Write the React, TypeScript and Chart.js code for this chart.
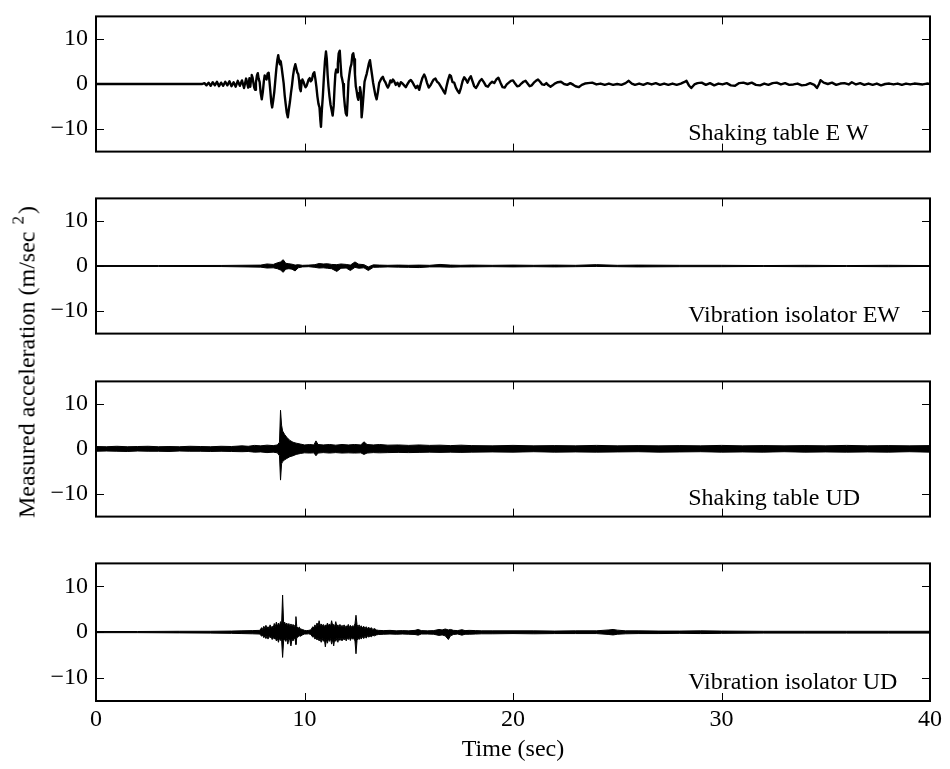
import React, { useEffect, useRef } from "react";
import { Chart, registerables } from "chart.js";

Chart.register(...registerables);

const FONT = "'Liberation Serif', 'Times New Roman', serif";

// ---- axis ticks & labels ----
const xTickValues = [0, 10, 20, 30, 40];
const yTickValues = [-10, 0, 10];
const panelLabels = [
  "Shaking table E W",
  "Vibration isolator EW",
  "Shaking table UD",
  "Vibration isolator UD",
];
const xAxisTitle = "Time (sec)";

// ---- Panel 1: shaking table EW, [time s, acceleration m/s²] ----
const tableEwOnset: [number, number][] = [
  [0, 0], [5.1, 0], [5.2, 0.2], [5.3, -0.3], [5.4, 0.3], [5.5, -0.4], [5.6, 0.4], [5.7, -0.3],
  [5.8, 0.5], [5.9, -0.5], [6.0, 0.3], [6.1, -0.4], [6.2, 0.5], [6.3, -0.3], [6.4, 0.6],
  [6.5, -0.5], [6.6, 0.4], [6.7, -0.6], [6.8, 0.7], [6.9, -0.4], [7.0, 0.8], [7.1, -0.9],
  [7.2, 1.2], [7.3, -0.8], [7.36, 1.3], [7.4, -0.6],
];
const tableEwStrong: [number, number][] = [
  [7.44, 1.2], [7.47, 2.0], [7.51, 1.4], [7.55, 0.2], [7.59, -0.8], [7.63, -1.3], [7.67, 0.3],
  [7.72, 1.9], [7.76, 2.4], [7.8, 1.2], [7.85, 0.4], [7.9, -2.0], [7.95, -3.4], [8.0, -1.8],
  [8.05, 0.6], [8.09, 1.9], [8.13, 1.4], [8.18, 1.0], [8.23, 2.3], [8.28, 2.5], [8.32, 0.6],
  [8.36, -1.5], [8.41, -4.2], [8.45, -5.2], [8.5, -3.6], [8.55, -1.8], [8.6, 0.8], [8.65, 3.4],
  [8.7, 5.4], [8.74, 6.4], [8.78, 5.2], [8.82, 4.4], [8.86, 5.0], [8.9, 3.8], [8.95, 2.0],
  [9.0, 0.2], [9.05, -2.5], [9.1, -4.5], [9.15, -6.4], [9.2, -7.4], [9.25, -5.6], [9.3, -4.0],
  [9.35, -2.0], [9.4, -0.3], [9.45, 1.8], [9.5, 3.3], [9.56, 4.4], [9.6, 3.6], [9.65, 2.6],
  [9.7, 2.2], [9.74, 0.8], [9.78, -1.0], [9.82, -1.6], [9.86, 0.2], [9.9, 1.0], [9.95, 0.5],
  [10.0, -0.2], [10.05, -0.7], [10.1, -0.4], [10.15, 0.3], [10.2, 1.0], [10.25, 1.3],
  [10.3, 0.6], [10.35, 0.9], [10.42, 2.3], [10.47, 2.6], [10.52, 1.2], [10.57, -0.6],
  [10.62, -2.8], [10.67, -4.4], [10.72, -5.2], [10.76, -8.0], [10.79, -9.5], [10.83, -6.0],
  [10.88, -2.7], [10.93, 1.5], [10.98, 5.0], [11.03, 7.2], [11.07, 5.5], [11.11, 2.0],
  [11.15, -0.5], [11.2, -2.8], [11.25, -4.6], [11.3, -5.8], [11.35, -7.0], [11.4, -4.8],
  [11.44, -1.0], [11.48, 2.2], [11.52, 3.2], [11.56, 2.6], [11.6, 4.5], [11.64, 6.8],
  [11.69, 7.4], [11.73, 4.5], [11.77, 1.8], [11.81, 1.0], [11.85, 0.0], [11.89, -2.6],
  [11.94, -5.0], [11.98, -6.5], [12.03, -7.0], [12.07, -3.5], [12.11, 0.5], [12.15, 2.0],
  [12.2, 3.6], [12.25, 4.4], [12.3, 6.5], [12.34, 6.8], [12.38, 5.5], [12.42, 2.2],
  [12.46, -0.5], [12.5, -1.5], [12.54, -2.8], [12.58, -3.5], [12.62, -2.0], [12.66, -0.7],
  [12.7, -1.8], [12.74, -7.4], [12.78, -5.5], [12.83, -2.5], [12.88, 0.5], [12.93, 1.4],
  [12.98, 2.2], [13.04, 3.5], [13.09, 4.6], [13.14, 5.3], [13.19, 3.6], [13.24, 2.0],
  [13.29, 0.3], [13.34, -1.0], [13.4, -2.5], [13.46, -3.4], [13.52, -1.8], [13.58, 0.2],
  [13.64, 0.8], [13.7, 1.3], [13.76, 1.6], [13.82, 0.8], [13.88, 0.4], [13.94, -0.3],
  [14.0, -0.8], [14.06, -0.2], [14.12, 0.8], [14.18, 0.4], [14.24, 1.0], [14.3, 0.6],
];
const tableEwCoda: [number, number][] = [
  [14.38, -0.2], [14.46, 0.3], [14.54, -0.5], [14.62, 0.4], [14.7, 0.1], [14.78, -0.3],
  [14.86, -0.7], [14.94, 0.0], [15.02, 0.6], [15.1, 0.9], [15.18, 0.4], [15.26, -0.3],
  [15.34, -0.9], [15.42, -0.4], [15.5, -1.3], [15.58, 0.2], [15.66, 1.4], [15.74, 2.1],
  [15.8, 1.5], [15.88, 0.2], [15.96, -0.8], [16.04, -0.3], [16.12, 0.4], [16.2, 1.0],
  [16.28, 1.2], [16.36, 0.5], [16.44, 0.2], [16.52, -0.4], [16.6, -1.0], [16.68, -1.7],
  [16.74, -2.1], [16.8, -0.8], [16.88, 0.8], [16.96, 2.0], [17.02, 1.8], [17.1, 0.4],
  [17.18, 0.3], [17.26, -0.8], [17.34, -1.5], [17.42, -2.0], [17.5, -0.9], [17.58, 0.6],
  [17.66, 1.5], [17.74, 1.0], [17.82, 0.3], [17.9, 1.2], [17.98, 1.7], [18.06, 0.6],
  [18.14, -0.5], [18.22, -0.9], [18.3, -0.3], [18.4, 0.6], [18.5, 1.1], [18.6, 0.4],
  [18.7, -0.4], [18.8, -0.6], [18.9, 0.1], [19.0, 0.5], [19.1, 0.2], [19.2, 1.0], [19.3, 1.4],
  [19.4, 0.3], [19.5, -0.7], [19.6, -0.8], [19.7, -0.1], [19.8, 0.3], [19.9, 0.7], [20.0, 0.8],
  [20.1, 0.1], [20.2, -0.5], [20.3, -0.4], [20.4, 0.1], [20.5, 0.5], [20.6, 0.7], [20.7, 0.1],
  [20.8, -0.5], [20.9, -0.3], [21.0, 0.3], [21.1, 0.7], [21.2, 1.0], [21.3, 0.5], [21.4, -0.1],
  [21.5, -0.2], [21.6, 0.2], [21.7, -0.3], [21.8, -0.6], [21.9, -0.3], [22.0, 0.1],
  [22.15, 0.4], [22.3, 0.5], [22.45, 0.0], [22.6, -0.2], [22.75, 0.2], [22.9, -0.2],
  [23.0, -0.5], [23.15, -0.7], [23.3, -0.2], [23.45, 0.1], [23.6, 0.2], [23.8, 0.3],
  [24.0, -0.1], [24.2, 0.1], [24.4, -0.2], [24.6, 0.1], [24.8, -0.2], [25.0, 0.0],
  [25.2, -0.2], [25.4, 0.2], [25.55, 0.7], [25.7, 0.1], [25.85, -0.2], [26.05, 0.1],
  [26.25, -0.2], [26.45, 0.2], [26.65, -0.1], [26.85, 0.2], [27.05, -0.2], [27.25, 0.1],
  [27.45, -0.2], [27.65, 0.1], [27.85, -0.2], [28.05, 0.1], [28.2, 0.4], [28.32, 0.7],
  [28.45, -0.4], [28.55, -0.9], [28.7, -0.1], [28.85, 0.2], [29.05, 0.3], [29.25, -0.2],
  [29.45, 0.2], [29.65, -0.3], [29.85, 0.1], [30.05, -0.1], [30.25, 0.2], [30.45, -0.3],
  [30.65, -0.4], [30.85, 0.2], [31.05, 0.3], [31.25, 0.0], [31.45, 0.3], [31.65, -0.2],
  [31.85, -0.3], [32.05, 0.1], [32.25, -0.2], [32.45, 0.2], [32.65, 0.3], [32.85, -0.1],
  [33.05, 0.2], [33.25, -0.2], [33.45, -0.1], [33.65, 0.1], [33.85, -0.3], [34.05, -0.2],
  [34.25, 0.2], [34.45, -0.2], [34.58, -0.9], [34.68, 0.0], [34.75, 0.85], [34.9, 0.3],
  [35.1, 0.0], [35.3, 0.3], [35.5, -0.2], [35.7, 0.1], [35.9, 0.2], [36.1, -0.1], [36.25, 0.4],
  [36.45, -0.1], [36.65, 0.2], [36.85, -0.2], [37.05, 0.1], [37.25, -0.2], [37.45, 0.1],
  [37.65, -0.3], [37.85, 0.0], [38.05, 0.1], [38.25, -0.1], [38.45, 0.1], [38.65, -0.2],
  [38.85, 0.1], [39.05, -0.1], [39.25, 0.1], [39.45, 0.0], [39.65, -0.1], [39.85, 0.1],
  [40.0, 0.0],
];

// ---- Panel 2: vibration isolator EW, [time, upper, lower] envelope ----
const isoEwEnvelope: [number, number, number][] = [
  [0, 0.1, -0.1], [3, 0.1, -0.1], [6, 0.12, -0.12], [7.9, 0.2, -0.25], [8.2, 0.45, -0.45],
  [8.5, 0.35, -0.4], [8.7, 0.7, -0.6], [8.85, 0.9, -0.9], [8.98, 1.4, -1.4], [9.1, 0.6, -0.7],
  [9.25, 0.5, -0.6], [9.4, 0.4, -0.7], [9.55, 0.2, -1.1], [9.7, 0.3, -0.4], [9.9, 0.15, -0.2],
  [10.2, 0.2, -0.15], [10.5, 0.3, -0.3], [10.7, 0.55, -0.45], [10.9, 0.45, -0.4],
  [11.1, 0.5, -0.5], [11.3, 0.35, -0.6], [11.55, 0.3, -1.2], [11.75, 0.45, -0.5],
  [12.0, 0.35, -0.45], [12.2, 0.2, -1.0], [12.42, 0.9, -0.3], [12.6, 0.4, -0.5],
  [12.85, 0.3, -0.4], [13.06, -0.2, -1.0], [13.3, 0.25, -0.3], [13.6, 0.2, -0.25],
  [14.0, 0.15, -0.2], [14.5, 0.2, -0.25], [15.0, 0.15, -0.3], [15.5, 0.2, -0.35],
  [16.0, 0.15, -0.2], [16.5, 0.35, -0.2], [17.0, 0.2, -0.25], [17.5, 0.15, -0.2],
  [18.0, 0.2, -0.2], [19, 0.15, -0.15], [20, 0.2, -0.2], [21, 0.15, -0.15], [22, 0.2, -0.2],
  [23, 0.15, -0.15], [24, 0.3, -0.1], [25, 0.15, -0.15], [26, 0.2, -0.2], [28, 0.15, -0.15],
  [30, 0.15, -0.15], [32, 0.1, -0.1], [34, 0.15, -0.15], [36, 0.1, -0.1], [38, 0.15, -0.15],
  [40, 0.1, -0.1],
];

// ---- Panel 3: shaking table UD, [time, upper, lower] envelope ----
const tableUdEnvelope: [number, number, number][] = [
  [0, 0.55, -0.5], [0.5, 0.5, -0.45], [1, 0.6, -0.5], [1.5, 0.5, -0.55], [2, 0.55, -0.45],
  [2.5, 0.6, -0.5], [3, 0.5, -0.5], [3.5, 0.55, -0.55], [4, 0.5, -0.45], [4.5, 0.6, -0.5],
  [5, 0.55, -0.5], [5.5, 0.5, -0.55], [6, 0.6, -0.5], [6.5, 0.55, -0.55], [7, 0.7, -0.6],
  [7.3, 0.6, -0.55], [7.6, 0.8, -0.7], [7.9, 0.7, -0.65], [8.2, 0.85, -0.8], [8.5, 0.75, -0.7],
  [8.7, 0.9, -0.85], [8.8, 1.5, -1.5], [8.85, 8.6, -6.9], [8.9, 5.3, -3.3], [8.95, 4.0, -2.8],
  [9.05, 3.2, -2.4], [9.15, 2.6, -2.1], [9.3, 1.9, -1.7], [9.45, 1.5, -1.5], [9.6, 1.3, -1.2],
  [9.8, 1.1, -1.0], [10.0, 0.9, -0.85], [10.25, 1.0, -0.9], [10.45, 0.9, -0.85],
  [10.55, 1.8, -1.5], [10.65, 1.0, -0.9], [10.9, 0.9, -0.8], [11.2, 1.0, -0.9],
  [11.5, 0.85, -0.8], [11.8, 1.0, -0.9], [12.1, 0.9, -0.85], [12.4, 1.0, -0.9],
  [12.7, 0.9, -0.85], [12.85, 1.6, -1.2], [13.0, 1.0, -0.9], [13.3, 0.9, -0.8],
  [13.6, 1.0, -0.85], [14.0, 0.85, -0.8], [14.5, 0.9, -0.75], [15, 0.8, -0.8],
  [15.5, 0.9, -0.75], [16, 0.8, -0.7], [16.5, 0.85, -0.75], [17, 0.75, -0.7],
  [17.5, 0.85, -0.75], [18, 0.75, -0.7], [19, 0.7, -0.65], [20, 0.8, -0.7], [21, 0.7, -0.6],
  [22, 0.75, -0.7], [23, 0.7, -0.65], [24, 0.8, -0.7], [25, 0.7, -0.65], [26, 0.75, -0.6],
  [27, 0.7, -0.7], [28, 0.75, -0.65], [29, 0.7, -0.6], [30, 0.8, -0.7], [31, 0.7, -0.65],
  [32, 0.75, -0.7], [33, 0.7, -0.6], [34, 0.75, -0.7], [35, 0.7, -0.65], [36, 0.8, -0.7],
  [37, 0.7, -0.65], [38, 0.75, -0.7], [39, 0.7, -0.6], [40, 0.75, -0.7],
];

// ---- Panel 4: vibration isolator UD, [time, upper, lower] envelope ----
const isoUdEnvelope: [number, number, number][] = [
  [0, 0.15, -0.1], [2, 0.15, -0.1], [4, 0.2, -0.15], [5.5, 0.2, -0.2], [6.5, 0.25, -0.25],
  [7.0, 0.3, -0.3], [7.5, 0.35, -0.35], [7.85, 0.4, -0.4],
  [7.95, 1.0, -0.9], [8.0, 0.6, -0.6], [8.05, 1.3, -1.2], [8.1, 0.8, -0.8], [8.15, 1.5, -1.4],
  [8.2, 0.9, -0.9], [8.25, 1.2, -1.5], [8.3, 0.8, -0.9], [8.35, 1.6, -1.2], [8.4, 1.0, -1.0],
  [8.45, 1.3, -1.6], [8.5, 1.0, -1.1], [8.55, 1.9, -1.5], [8.6, 1.2, -1.2], [8.65, 2.2, -1.9],
  [8.7, 1.3, -1.4], [8.75, 2.0, -2.2], [8.8, 1.4, -1.3], [8.85, 2.3, -1.8], [8.9, 1.6, -1.6],
  [8.95, 8.1, -5.5], [9.0, 1.8, -1.8], [9.05, 2.2, -1.6], [9.1, 1.5, -2.0], [9.15, 2.0, -1.4],
  [9.2, 1.4, -2.6], [9.25, 1.9, -1.5], [9.3, 1.3, -1.8], [9.35, 1.8, -3.0], [9.4, 1.4, -1.5],
  [9.45, 1.7, -1.9], [9.5, 1.2, -1.3], [9.55, 1.6, -1.6], [9.59, 3.4, -2.7], [9.63, 1.2, -1.2],
  [9.7, 0.9, -1.0], [9.75, 1.1, -0.8], [9.8, 0.7, -0.9], [9.9, 0.6, -0.6], [10.0, 0.4, -0.4],
  [10.1, 0.35, -0.4], [10.2, 0.4, -0.35], [10.3, 0.5, -0.5],
  [10.4, 1.2, -1.1], [10.45, 0.9, -0.9], [10.5, 1.6, -1.5], [10.55, 1.1, -1.2], [10.6, 2.0, -1.7],
  [10.65, 1.3, -1.3], [10.7, 2.5, -1.9], [10.75, 1.4, -1.5], [10.8, 1.8, -2.2], [10.85, 1.3, -1.4],
  [10.9, 1.7, -2.0], [10.95, 1.2, -1.5], [11.0, 1.6, -3.2], [11.05, 1.3, -1.6], [11.1, 2.0, -2.4],
  [11.15, 1.4, -1.5], [11.2, 1.8, -2.0], [11.25, 1.3, -1.4], [11.3, 2.5, -2.6], [11.35, 1.5, -1.6],
  [11.4, 1.7, -3.0], [11.45, 1.2, -1.5], [11.5, 2.3, -2.0], [11.55, 1.3, -1.4], [11.6, 1.6, -2.2],
  [11.65, 1.2, -1.3], [11.7, 1.7, -1.8], [11.75, 1.1, -1.3], [11.8, 1.5, -1.9], [11.85, 1.2, -1.2],
  [11.9, 1.6, -1.7], [11.95, 1.0, -1.2], [12.0, 1.4, -1.9], [12.05, 1.1, -1.2], [12.1, 1.7, -1.6],
  [12.15, 1.0, -1.1], [12.2, 1.5, -1.8], [12.25, 1.1, -1.2], [12.3, 1.4, -1.5], [12.35, 1.2, -1.3],
  [12.42, 1.8, -1.9], [12.47, 3.7, -4.7], [12.52, 1.6, -1.8], [12.57, 1.2, -1.3], [12.62, 1.6, -1.6],
  [12.67, 1.0, -1.1], [12.72, 1.4, -1.5], [12.78, 0.9, -1.0], [12.84, 1.3, -1.4], [12.9, 0.8, -0.9],
  [12.96, 1.2, -1.3], [13.02, 0.8, -0.8], [13.08, 1.1, -1.1], [13.14, 0.7, -0.8], [13.2, 1.0, -1.0],
  [13.28, 0.6, -0.7], [13.36, 0.8, -0.8], [13.44, 0.5, -0.6], [13.55, 0.4, -0.5],
  [13.8, 0.35, -0.45], [14.1, 0.4, -0.4], [14.4, 0.3, -0.45], [14.7, 0.35, -0.4], [15.0, 0.3, -0.45],
  [15.3, 0.4, -0.5], [15.45, 0.6, -0.65], [15.6, 0.35, -0.4], [15.9, 0.3, -0.4], [16.2, 0.35, -0.45],
  [16.45, 0.6, -0.7], [16.6, 0.5, -0.6], [16.75, 0.7, -0.8], [16.9, 0.5, -1.6], [17.0, 0.6, -0.8],
  [17.15, 0.4, -0.5], [17.35, 0.35, -0.4], [17.55, 0.55, -0.65], [17.7, 0.35, -0.45],
  [17.9, 0.4, -0.45], [18.2, 0.35, -0.4], [18.5, 0.3, -0.35], [19, 0.3, -0.35], [20, 0.3, -0.3],
  [21, 0.3, -0.35], [22, 0.25, -0.3], [23, 0.3, -0.3], [24, 0.3, -0.3], [24.6, 0.5, -0.5],
  [24.8, 0.6, -0.6], [25.0, 0.45, -0.45], [25.4, 0.3, -0.35], [26, 0.3, -0.3], [27, 0.25, -0.3],
  [28, 0.25, -0.25], [29, 0.3, -0.3], [30, 0.25, -0.25], [32, 0.2, -0.2], [34, 0.2, -0.2],
  [36, 0.2, -0.2], [38, 0.2, -0.2], [40, 0.2, -0.2],
];

// ---- layout (pixels) ----
const PANEL_TOPS = [14, 196, 379, 561];
const PANEL_H = 140;
const PLOT_LEFT = 96;
const PLOT_RIGHT = 930;
const PAD = 20;
const X_AXIS_H = 40;
const LABEL_X = 28.4;
const LABEL_Y = -11;

function lineDatasets(series: [number, number][][]) {
  const pts: { x: number; y: number }[] = [];
  series.forEach((s) => s.forEach(([t, v]) => pts.push({ x: t, y: v })));
  return [
    {
      data: pts,
      borderColor: "#000",
      borderWidth: 2.4,
      pointRadius: 0,
      tension: 0,
      fill: false,
      borderJoinStyle: "round",
    },
  ];
}

function bandDatasets(env: [number, number, number][]) {
  return [
    {
      data: env.map(([t, u]) => ({ x: t, y: u })),
      borderColor: "#000",
      borderWidth: 1,
      pointRadius: 0,
      tension: 0,
      fill: false,
    },
    {
      data: env.map(([t, , l]) => ({ x: t, y: l })),
      borderColor: "#000",
      backgroundColor: "#000",
      borderWidth: 1,
      pointRadius: 0,
      tension: 0,
      fill: "-1",
    },
  ];
}

function framePlugin(label: string) {
  return {
    id: "frameAndLabel",
    afterDatasetsDraw(chart: any) {
      const { ctx, chartArea: a, scales } = chart;
      const x = scales.x;
      const y = scales.y;
      ctx.save();
      ctx.strokeStyle = "#000";
      ctx.lineWidth = 1;
      ctx.beginPath();
      xTickValues.forEach((v) => {
        const px = Math.round(x.getPixelForValue(v)) + 0.5;
        ctx.moveTo(px, a.bottom);
        ctx.lineTo(px, a.bottom - 8);
        ctx.moveTo(px, a.top);
        ctx.lineTo(px, a.top + 8);
      });
      yTickValues.forEach((v) => {
        const py = Math.round(y.getPixelForValue(v)) + 0.5;
        ctx.moveTo(a.left, py);
        ctx.lineTo(a.left + 8, py);
        ctx.moveTo(a.right, py);
        ctx.lineTo(a.right - 8, py);
      });
      ctx.stroke();
      ctx.lineWidth = 2;
      ctx.strokeRect(a.left, a.top, a.right - a.left, a.bottom - a.top);
      ctx.fillStyle = "#000";
      ctx.font = `24px ${FONT}`;
      ctx.textAlign = "left";
      ctx.textBaseline = "middle";
      ctx.fillText(label, x.getPixelForValue(LABEL_X), y.getPixelForValue(LABEL_Y));
      ctx.restore();
    },
  };
}

function makeChart(canvas: HTMLCanvasElement, datasets: any[], label: string, showX: boolean) {
  return new Chart(canvas, {
    type: "line",
    data: { datasets },
    plugins: [framePlugin(label)],
    options: {
      responsive: false,
      animation: false,
      events: [],
      layout: {
        padding: {
          top: PAD,
          right: 950 - PLOT_RIGHT,
          bottom: showX ? 10 : PAD,
          left: 0,
        },
      },
      plugins: {
        legend: { display: false },
        tooltip: { enabled: false },
      },
      scales: {
        x: {
          type: "linear",
          position: "bottom",
          min: 0,
          max: 40,
          afterBuildTicks: (s: any) => {
            s.ticks = xTickValues.map((v) => ({ value: v }));
          },
          afterFit: (s: any) => {
            s.height = showX ? X_AXIS_H : 0;
          },
          grid: { display: false, drawTicks: false },
          border: { display: false },
          ticks: {
            display: showX,
            color: "#000",
            font: { family: FONT, size: 24 },
            padding: 4,
            maxRotation: 0,
            autoSkip: false,
          },
        },
        y: {
          type: "linear",
          min: -15,
          max: 15,
          afterBuildTicks: (s: any) => {
            s.ticks = yTickValues.map((v) => ({ value: v }));
          },
          afterFit: (s: any) => {
            s.width = PLOT_LEFT;
          },
          grid: { display: false, drawTicks: false },
          border: { display: false },
          ticks: {
            color: "#000",
            font: { family: FONT, size: 24 },
            padding: 8,
            callback: (v: any) => (Number(v) < 0 ? "\u2212" + Math.abs(Number(v)) : String(v)),
          },
        },
      },
    } as any,
  });
}

export default function App() {
  const r0 = useRef<HTMLCanvasElement>(null);
  const r1 = useRef<HTMLCanvasElement>(null);
  const r2 = useRef<HTMLCanvasElement>(null);
  const r3 = useRef<HTMLCanvasElement>(null);

  useEffect(() => {
    const charts = [
      makeChart(r0.current!, lineDatasets([tableEwOnset, tableEwStrong, tableEwCoda]), panelLabels[0], false),
      makeChart(r1.current!, bandDatasets(isoEwEnvelope), panelLabels[1], false),
      makeChart(r2.current!, bandDatasets(tableUdEnvelope), panelLabels[2], false),
      makeChart(r3.current!, bandDatasets(isoUdEnvelope), panelLabels[3], true),
    ];
    return () => charts.forEach((c) => c.destroy());
  }, []);

  const refs = [r0, r1, r2, r3];

  return (
    <div
      style={{
        position: "absolute",
        left: 0,
        top: 0,
        width: 950,
        height: 769,
        background: "#fff",
        overflow: "hidden",
        fontFamily: FONT,
      }}
    >
      {refs.map((r, i) => (
        <canvas
          key={i}
          ref={r}
          width={950}
          height={i === 3 ? PAD + PANEL_H + 10 + X_AXIS_H : PAD + PANEL_H + PAD}
          style={{ position: "absolute", left: 0, top: PANEL_TOPS[i] - PAD }}
        />
      ))}
      <div
        style={{
          position: "absolute",
          left: 28,
          top: 362,
          transform: "translate(-50%, -50%) rotate(-90deg)",
          whiteSpace: "nowrap",
          fontSize: 24,
          lineHeight: "28px",
          color: "#000",
        }}
      >
        Measured acceleration (m/sec
        <span style={{ fontSize: 17, position: "relative", top: -11, marginLeft: 7, marginRight: 2 }}>2</span>)
      </div>
      <div
        style={{
          position: "absolute",
          left: (PLOT_LEFT + PLOT_RIGHT) / 2,
          top: 748,
          transform: "translate(-50%, -50%)",
          whiteSpace: "nowrap",
          fontSize: 24,
          lineHeight: "28px",
          color: "#000",
        }}
      >
        {xAxisTitle}
      </div>
    </div>
  );
}
